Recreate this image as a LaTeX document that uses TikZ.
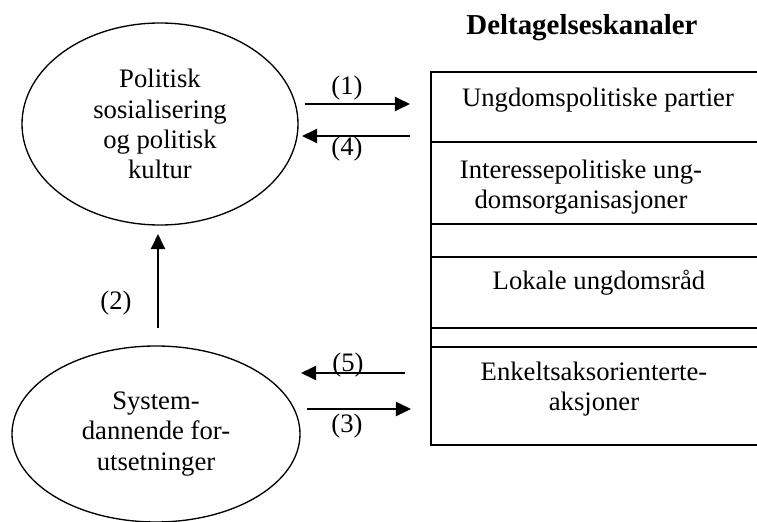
\documentclass[tikz,border=0pt]{standalone}
\usepackage{fontspec}
\setmainfont{Liberation Serif}
\usetikzlibrary{arrows.meta,shapes.geometric}

\begin{document}
\begin{tikzpicture}[x=0.45pt, y=-0.45pt, >={Triangle[length=6.8pt,width=6.3pt]},
        txt/.style={font=\fontsize{12}{13.6}\selectfont, inner sep=0pt, align=center},
        oval/.style={txt, draw, ellipse, line width=0.6pt},
        arr/.style={->, line width=1pt}]
        \useasboundingbox (0,0) rectangle (757,522);
        % left side
        \node[oval, minimum width=124.2pt, minimum height=90.9pt] (kultur) at (160,124)
            {Politisk\\sosialisering\\og politisk\\kultur};
        \node[oval, minimum width=129.6pt, minimum height=79.2pt] (forutsetn) at (156,434)
            {System-\\dannende for-\\utsetninger};
        % channels
        \node[txt, anchor=base, font=\fontsize{13}{15}\selectfont\bfseries] (kanaler) at (582,35) {Deltagelseskanaler};
        \draw[line width=0.75pt] (757,72) -- (431,72) -- (431,445) -- (757,445);
        \foreach \y in {224,257,347} \draw[line width=0.75pt] (431,\y) -- (757,\y);
        \draw[line width=0.5pt] (431,328) -- (757,328);
        \draw[line width=1.2pt] (431,142) -- (757,142);
        \node[txt, anchor=base] (partier) at (598,107) {Ungdomspolitiske partier};
        \node[txt] (organisasj) at (581,187) {Interessepolitiske ung-\\domsorganisasjoner};
        \node[txt, anchor=base] (raad) at (599,290) {Lokale ungdomsråd};
        \node[txt] (aksjoner) at (594,389) {Enkeltsaksorienterte-\\aksjoner};
        % arrows
        \coordinate (a1s) at (305,104); \coordinate (a1e) at (410,104);
        \coordinate (a4s) at (410,136); \coordinate (a4e) at (302,136);
        \coordinate (a2s) at (158,328); \coordinate (a2e) at (158,234);
        \coordinate (a5s) at (405,373); \coordinate (a5e) at (301,373);
        \coordinate (a3s) at (307,409); \coordinate (a3e) at (411,409);
        \foreach \s/\e in {a1s/a1e, a4s/a4e, a2s/a2e, a5s/a5e, a3s/a3e}
            \draw[arr] (\s) -- (\e);
        \foreach \n/\x/\y in {1/347/88, 4/347/149, 2/116/303, 5/348/365, 3/347/426}
            \node[txt] (l\n) at (\x,\y) {(\n)};
    \end{tikzpicture}
\end{document}
